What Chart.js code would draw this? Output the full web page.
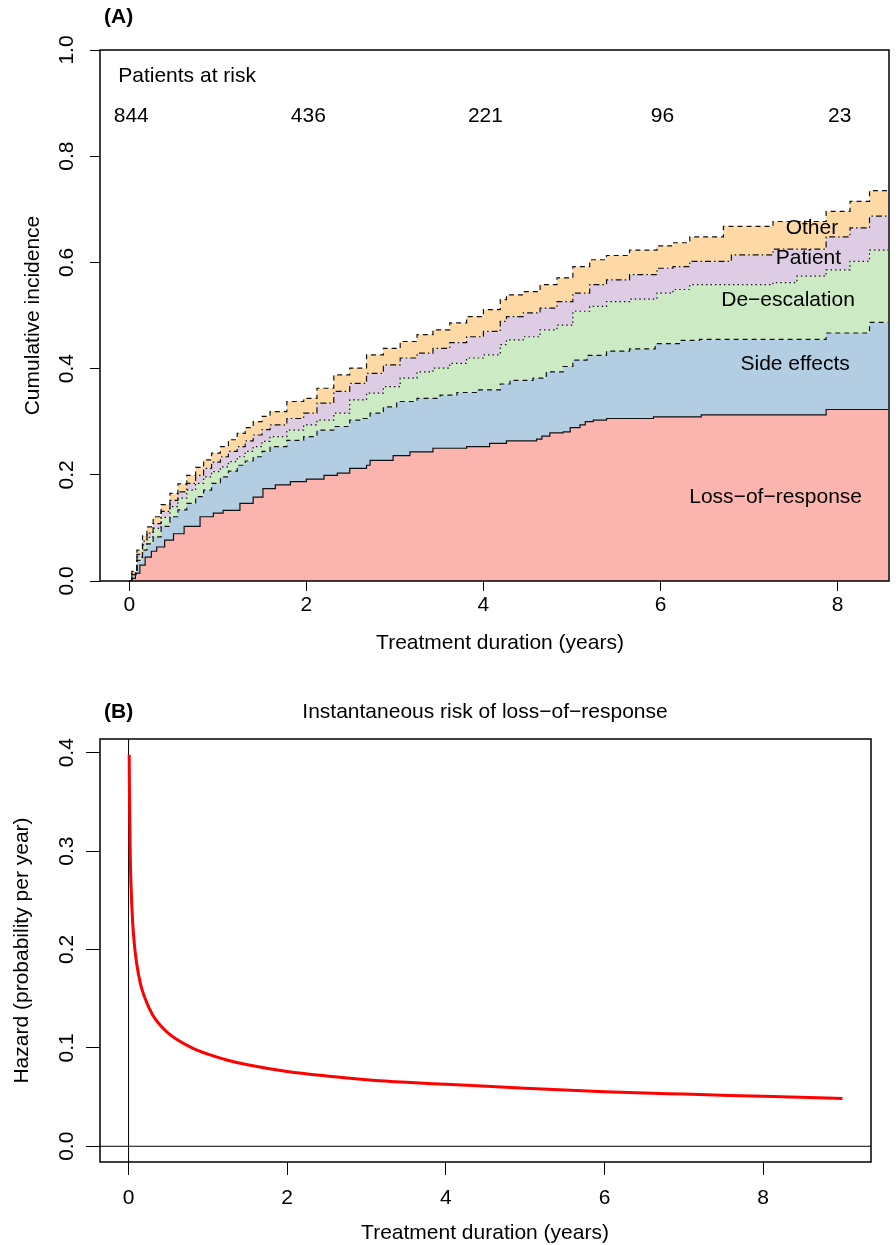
<!DOCTYPE html>
<html>
<head>
<meta charset="utf-8">
<script src="https://cdn.jsdelivr.net/npm/chart.js@4.4.1/dist/chart.umd.min.js"></script>
<style>
html,body{margin:0;padding:0;background:#fff;}
#wrap{position:relative;width:896px;height:1245px;}
canvas{position:absolute;left:0;}
#chartA{top:0;}
#chartB{top:680px;}
</style>
</head>
<body>
<div id="wrap">
<canvas id="chartA" width="896" height="680"></canvas>
<canvas id="chartB" width="896" height="565"></canvas>
</div>
<script>
var FONT = '"Liberation Sans", Arial, Helvetica, sans-serif';
Chart.defaults.font.family = FONT;
Chart.defaults.font.size = 21;
Chart.defaults.color = '#000';

// ---- panel A: cumulative incidence, tops of the stacked layers ----
var lossTimes = [0, 0.03, 0.07, 0.12, 0.18, 0.25, 0.31, 0.4, 0.5, 0.62, 0.8, 0.95, 1.06, 1.25, 1.4, 1.51, 1.65, 1.82, 2.0, 2.2, 2.35, 2.49, 2.68, 2.72, 2.98, 3.17, 3.43, 3.81, 4.07, 4.26, 4.6, 4.66, 4.75, 4.9, 4.98, 5.09, 5.15, 5.24, 5.39, 5.92, 6.46, 7.87, 8.57];
var lossVals = [0, 0.005, 0.015, 0.03, 0.045, 0.056, 0.064, 0.077, 0.089, 0.103, 0.121, 0.128, 0.133, 0.146, 0.158, 0.174, 0.181, 0.187, 0.192, 0.199, 0.203, 0.212, 0.218, 0.227, 0.236, 0.243, 0.250, 0.253, 0.259, 0.264, 0.267, 0.273, 0.279, 0.281, 0.289, 0.294, 0.300, 0.303, 0.306, 0.309, 0.313, 0.323, 0.323];

var sideTimes = [0, 0.03, 0.087, 0.15, 0.2, 0.27, 0.36, 0.46, 0.55, 0.65, 0.75, 0.84, 0.93, 1.03, 1.12, 1.22, 1.31, 1.40, 1.5, 1.59, 1.78, 1.97, 2.12, 2.31, 2.49, 2.64, 2.72, 2.87, 3.02, 3.25, 3.51, 3.70, 3.92, 4.19, 4.30, 4.56, 4.71, 4.90, 5.01, 5.17, 5.39, 5.65, 5.94, 6.22, 6.44, 7.87, 8.36, 8.57];
var sideVals = [0, 0.012, 0.039, 0.058, 0.070, 0.083, 0.103, 0.121, 0.134, 0.146, 0.159, 0.171, 0.184, 0.196, 0.207, 0.218, 0.226, 0.234, 0.244, 0.253, 0.265, 0.272, 0.284, 0.291, 0.303, 0.306, 0.316, 0.328, 0.338, 0.344, 0.350, 0.355, 0.360, 0.371, 0.378, 0.382, 0.394, 0.404, 0.416, 0.425, 0.433, 0.437, 0.447, 0.453, 0.455, 0.467, 0.487, 0.487];

var deescTimes = [0, 0.03, 0.087, 0.15, 0.2, 0.27, 0.36, 0.46, 0.55, 0.65, 0.75, 0.84, 0.93, 1.03, 1.12, 1.22, 1.31, 1.40, 1.5, 1.59, 1.78, 1.97, 2.12, 2.31, 2.49, 2.68, 2.87, 3.06, 3.25, 3.43, 3.62, 3.81, 4.0, 4.19, 4.26, 4.45, 4.64, 4.83, 5.01, 5.20, 5.39, 5.65, 5.96, 6.14, 6.33, 7.27, 7.54, 7.87, 8.14, 8.36, 8.57];
var deescVals = [0, 0.014, 0.045, 0.068, 0.082, 0.099, 0.120, 0.140, 0.156, 0.171, 0.184, 0.196, 0.206, 0.215, 0.225, 0.234, 0.244, 0.253, 0.263, 0.272, 0.284, 0.294, 0.303, 0.316, 0.341, 0.354, 0.366, 0.382, 0.394, 0.401, 0.410, 0.420, 0.426, 0.445, 0.454, 0.460, 0.473, 0.482, 0.508, 0.517, 0.526, 0.531, 0.542, 0.549, 0.558, 0.562, 0.574, 0.586, 0.602, 0.623, 0.623];

var patientTimes = [0, 0.03, 0.087, 0.15, 0.2, 0.27, 0.36, 0.46, 0.55, 0.65, 0.75, 0.84, 0.93, 1.03, 1.12, 1.22, 1.31, 1.40, 1.5, 1.59, 1.78, 1.97, 2.12, 2.31, 2.49, 2.68, 2.87, 3.06, 3.25, 3.43, 3.62, 3.81, 4.0, 4.19, 4.26, 4.45, 4.64, 4.83, 5.01, 5.20, 5.39, 5.65, 5.96, 6.14, 6.33, 6.8, 7.27, 7.87, 8.14, 8.36, 8.57];
var patientVals = [0, 0.015, 0.050, 0.075, 0.090, 0.108, 0.131, 0.152, 0.168, 0.184, 0.199, 0.212, 0.224, 0.234, 0.244, 0.253, 0.264, 0.275, 0.285, 0.294, 0.306, 0.316, 0.335, 0.357, 0.372, 0.391, 0.407, 0.420, 0.429, 0.438, 0.449, 0.460, 0.470, 0.489, 0.498, 0.505, 0.514, 0.526, 0.542, 0.558, 0.567, 0.577, 0.589, 0.592, 0.602, 0.614, 0.625, 0.648, 0.665, 0.687, 0.687];

var otherTimes = [0, 0.03, 0.087, 0.15, 0.2, 0.27, 0.36, 0.46, 0.55, 0.65, 0.75, 0.84, 0.93, 1.03, 1.12, 1.22, 1.31, 1.40, 1.5, 1.59, 1.78, 1.97, 2.12, 2.31, 2.49, 2.68, 2.87, 3.06, 3.25, 3.43, 3.62, 3.81, 4.0, 4.19, 4.26, 4.45, 4.64, 4.83, 5.01, 5.20, 5.39, 5.65, 5.96, 6.14, 6.33, 6.71, 7.27, 7.87, 8.14, 8.36, 8.57];
var otherVals = [0, 0.018, 0.058, 0.085, 0.102, 0.121, 0.144, 0.165, 0.183, 0.199, 0.214, 0.228, 0.241, 0.253, 0.266, 0.278, 0.289, 0.300, 0.310, 0.319, 0.338, 0.344, 0.363, 0.388, 0.401, 0.426, 0.438, 0.451, 0.464, 0.473, 0.486, 0.498, 0.511, 0.530, 0.539, 0.545, 0.558, 0.571, 0.592, 0.605, 0.613, 0.623, 0.631, 0.637, 0.648, 0.668, 0.677, 0.696, 0.715, 0.735, 0.735];

var causeNames = ['Loss\u2212of\u2212response', 'Side effects', 'De\u2212escalation', 'Patient', 'Other'];
var riskTimes = [0, 2, 4, 6, 8];
var riskCounts = [844, 436, 221, 96, 23];
var yearTicks = [0, 2, 4, 6, 8];
var incTicks = [0, 0.2, 0.4, 0.6, 0.8, 1.0];

// ---- panel B: hazard of loss-of-response ----
var hazTimes = [0.008, 0.01, 0.02, 0.03, 0.05, 0.075, 0.1, 0.15, 0.2, 0.3, 0.4, 0.5, 0.6, 0.8, 1, 1.25, 1.5, 2, 2.5, 3, 3.5, 4, 5, 6, 7, 8, 9];
var hazVals = [0.398, 0.372, 0.303, 0.268, 0.230, 0.204, 0.187, 0.165, 0.152, 0.134, 0.123, 0.115, 0.109, 0.100, 0.0936, 0.0875, 0.0828, 0.076, 0.0714, 0.0677, 0.0650, 0.0630, 0.0590, 0.0555, 0.0530, 0.0508, 0.0485];
var hazTicks = [0, 0.1, 0.2, 0.3, 0.4];

function pts(t, v) {
  return t.map(function (x, i) { return { x: x, y: v[i] }; });
}

function layer(name, t, v, col, dash, fill) {
  return {
    label: name,
    data: pts(t, v),
    stepped: true,
    fill: fill,
    backgroundColor: col,
    borderColor: '#111',
    borderWidth: 1.2,
    borderDash: dash,
    pointRadius: 0
  };
}

function fixTicks(list) {
  return function (s) { s.ticks = list.map(function (v) { return { value: v }; }); };
}

function drawText(ctx, txt, x, y, align, font, rot) {
  ctx.save();
  ctx.font = font || ('21px ' + FONT);
  ctx.fillStyle = '#000';
  ctx.textAlign = align || 'center';
  ctx.textBaseline = 'middle';
  ctx.translate(x, y);
  if (rot) ctx.rotate(rot);
  ctx.fillText(txt, 0, 0);
  ctx.restore();
}

function box(chart) {
  var a = chart.chartArea, ctx = chart.ctx;
  ctx.save();
  ctx.strokeStyle = '#000';
  ctx.lineWidth = 1.5;
  ctx.strokeRect(a.left, a.top, a.right - a.left, a.bottom - a.top);
  ctx.restore();
}

// label spots for the layer names, in data units
var namePos = [[7.30, 0.157], [7.52, 0.408], [7.44, 0.528], [7.67, 0.607], [7.71, 0.665]];

var decorA = {
  id: 'decorA',
  afterDraw: function (chart) {
    var ctx = chart.ctx, xs = chart.scales.x, ys = chart.scales.y;
    box(chart);
    incTicks.forEach(function (v) {
      drawText(ctx, v.toFixed(1), 67, ys.getPixelForValue(v), 'center', null, -Math.PI / 2);
    });
    drawText(ctx, 'Cumulative incidence', 33, (chart.chartArea.top + chart.chartArea.bottom) / 2, 'center', null, -Math.PI / 2);
    drawText(ctx, 'Treatment duration (years)', 500, 643, 'center');
    drawText(ctx, '(A)', 104, 17, 'left', 'bold 21px ' + FONT);
    drawText(ctx, 'Patients at risk', xs.getPixelForValue(-0.124), ys.getPixelForValue(0.951), 'left');
    riskTimes.forEach(function (t, i) {
      drawText(ctx, String(riskCounts[i]), xs.getPixelForValue(t) + 2, ys.getPixelForValue(0.875), 'center');
    });
    causeNames.forEach(function (n, i) {
      drawText(ctx, n, xs.getPixelForValue(namePos[i][0]), ys.getPixelForValue(namePos[i][1]), 'center');
    });
  }
};

new Chart(document.getElementById('chartA').getContext('2d'), {
  type: 'line',
  data: {
    datasets: [
      layer(causeNames[0], lossTimes, lossVals, '#FBB4AE', [], 'origin'),
      layer(causeNames[1], sideTimes, sideVals, '#B3CDE3', [5, 4], '-1'),
      layer(causeNames[2], deescTimes, deescVals, '#CCEBC5', [1.5, 3], '-1'),
      layer(causeNames[3], patientTimes, patientVals, '#DECBE4', [1.5, 3, 6, 3], '-1'),
      layer(causeNames[4], otherTimes, otherVals, '#FED9A6', [5, 4], '-1')
    ]
  },
  options: {
    responsive: false,
    animation: false,
    devicePixelRatio: 1,
    layout: { padding: { top: 50, right: 7, left: 0, bottom: 0 } },
    plugins: { legend: { display: false }, tooltip: { enabled: false }, filler: { drawTime: 'beforeDatasetsDraw' } },
    scales: {
      x: {
        type: 'linear', min: -0.33, max: 8.58,
        afterBuildTicks: fixTicks(yearTicks),
        afterFit: function (s) { s.height = 99; },
        border: { display: false },
        grid: { drawOnChartArea: false, tickLength: 10, color: '#000', lineWidth: 1 },
        ticks: { padding: 2, maxRotation: 0, callback: function (v) { return v; } }
      },
      y: {
        type: 'linear', min: 0, max: 1,
        afterBuildTicks: fixTicks(incTicks),
        afterFit: function (s) { s.width = 100; },
        border: { display: false },
        grid: { drawOnChartArea: false, tickLength: 10, color: '#000', lineWidth: 1 },
        ticks: { display: false }
      }
    }
  },
  plugins: [decorA]
});

var decorB = {
  id: 'decorB',
  beforeDatasetsDraw: function (chart) {
    var ctx = chart.ctx, a = chart.chartArea, xs = chart.scales.x, ys = chart.scales.y;
    ctx.save();
    ctx.strokeStyle = '#000';
    ctx.lineWidth = 1;
    ctx.beginPath();
    ctx.moveTo(a.left, ys.getPixelForValue(0));
    ctx.lineTo(a.right, ys.getPixelForValue(0));
    ctx.moveTo(xs.getPixelForValue(0), a.top);
    ctx.lineTo(xs.getPixelForValue(0), a.bottom);
    ctx.stroke();
    ctx.restore();
  },
  afterDraw: function (chart) {
    var ctx = chart.ctx, ys = chart.scales.y;
    box(chart);
    hazTicks.forEach(function (v) {
      drawText(ctx, v.toFixed(1), 67, ys.getPixelForValue(v), 'center', null, -Math.PI / 2);
    });
    drawText(ctx, 'Hazard (probability per year)', 22, (chart.chartArea.top + chart.chartArea.bottom) / 2, 'center', null, -Math.PI / 2);
    drawText(ctx, 'Treatment duration (years)', 485, 553, 'center');
    drawText(ctx, '(B)', 104, 32, 'left', 'bold 21px ' + FONT);
    drawText(ctx, 'Instantaneous risk of loss\u2212of\u2212response', 485, 32, 'center');
  }
};

new Chart(document.getElementById('chartB').getContext('2d'), {
  type: 'line',
  data: {
    datasets: [{
      label: 'Hazard',
      data: pts(hazTimes, hazVals),
      borderColor: '#ff0000',
      borderWidth: 3,
      cubicInterpolationMode: 'monotone',
      pointRadius: 0,
      fill: false
    }]
  },
  options: {
    responsive: false,
    animation: false,
    devicePixelRatio: 1,
    layout: { padding: { top: 59, right: 25, left: 0, bottom: 0 } },
    plugins: { legend: { display: false }, tooltip: { enabled: false } },
    scales: {
      x: {
        type: 'linear', min: -0.36, max: 9.36,
        afterBuildTicks: fixTicks(yearTicks),
        afterFit: function (s) { s.height = 83; },
        border: { display: false },
        grid: { drawOnChartArea: false, tickLength: 13, color: '#000', lineWidth: 1 },
        ticks: { padding: 11, maxRotation: 0, callback: function (v) { return v; } }
      },
      y: {
        type: 'linear', min: -0.016, max: 0.414,
        afterBuildTicks: fixTicks(hazTicks),
        afterFit: function (s) { s.width = 100; },
        border: { display: false },
        grid: { drawOnChartArea: false, tickLength: 14, color: '#000', lineWidth: 1 },
        ticks: { display: false }
      }
    }
  },
  plugins: [decorB]
});
</script>
</body>
</html>
